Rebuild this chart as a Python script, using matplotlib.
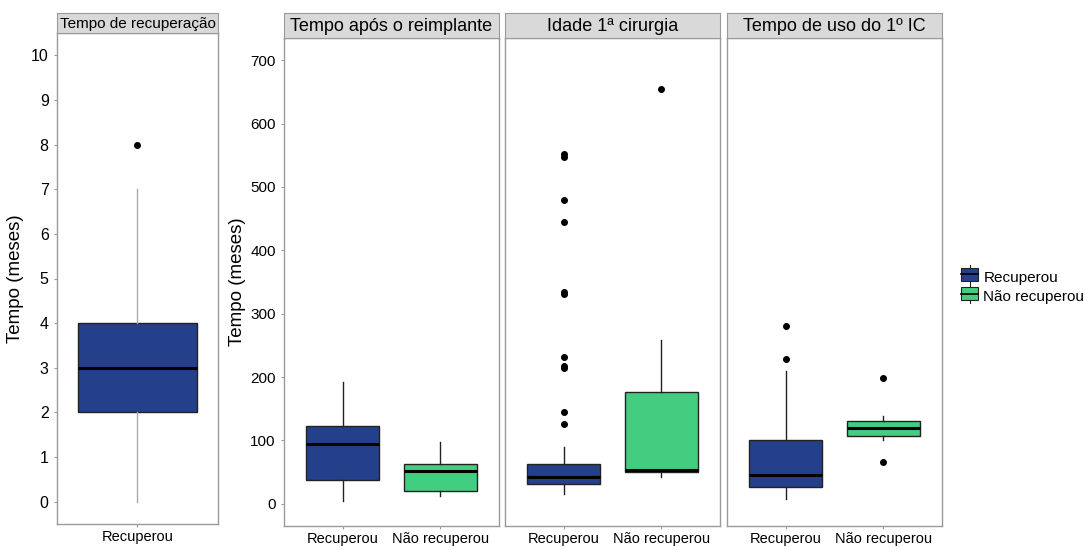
import matplotlib

matplotlib.use("Agg")
import matplotlib.pyplot as plt
from matplotlib.legend_handler import HandlerBase
from matplotlib.lines import Line2D
from matplotlib.patches import Rectangle

plt.rcParams["font.family"] = ["Liberation Sans", "DejaVu Sans"]

W, H = 1085, 547

groups = ["Recuperou", "Não recuperou"]
colors = {"Recuperou": "#25408A", "Não recuperou": "#43CD80"}

# left plot: tempo de recuperacao (meses), only "Recuperou"
rec_title = "Tempo de recuperação"
rec_stats = {"whislo": 0, "q1": 2, "med": 3, "q3": 4, "whishi": 7, "fliers": [8]}

# right facets: whislo, q1, med, q3, whishi, fliers per group
facet_titles = ["Tempo após o reimplante", "Idade 1ª cirurgia", "Tempo de uso do 1º IC"]
reimplante_rec = [4, 38, 94, 123, 192, []]
reimplante_nao = [13, 20, 51, 63, 98, []]
idade_rec = [16, 31, 42, 63, 89, [126, 145, 215, 218, 232, 331, 334, 445, 480, 547, 552]]
idade_nao = [43, 50, 53, 177, 258, [655]]
uso_rec = [8, 26, 45, 101, 209, [228, 280]]
uso_nao = [100, 107, 119, 130, 139, [66, 199]]
facet_data = [
    [reimplante_rec, reimplante_nao],
    [idade_rec, idade_nao],
    [uso_rec, uso_nao],
]
right_ticks = [0, 100, 200, 300, 400, 500, 600, 700]
left_ticks = list(range(0, 11))


def px(x0, y0, x1, y1):
    return [x0 / W, 1 - y1 / H, (x1 - x0) / W, (y1 - y0) / H]


def to_stats(vals):
    lo, q1, med, q3, hi, fl = vals
    return {"whislo": lo, "q1": q1, "med": med, "q3": q3, "whishi": hi, "fliers": fl}


def style_axes(ax):
    for sp in ax.spines.values():
        sp.set_color("#9a9a9a")
        sp.set_linewidth(1.0)
    ax.tick_params(axis="both", colors="#9a9a9a", labelcolor="black", length=2.5, width=0.8)
    ax.tick_params(axis="x", pad=1.5)


def draw_strip(fig, rect, text, size):
    sax = fig.add_axes(px(*rect))
    sax.set_xticks([])
    sax.set_yticks([])
    sax.set_facecolor("#D9D9D9")
    for sp in sax.spines.values():
        sp.set_color("#9a9a9a")
    sax.text(0.5, 0.45, text, ha="center", va="center", fontsize=size, transform=sax.transAxes)


def draw_box(ax, stats, pos, color, width, whisker_color):
    ax.bxp(
        [stats],
        positions=[pos],
        widths=width,
        patch_artist=True,
        boxprops=dict(facecolor=color, edgecolor="#222222", linewidth=1.0),
        medianprops=dict(color="black", linewidth=2.2),
        whiskerprops=dict(color=whisker_color, linewidth=1.0),
        capprops=dict(linewidth=0),
        flierprops=dict(marker="o", markerfacecolor="black", markeredgecolor="black", markersize=4),
    )


class BoxKeyHandler(HandlerBase):
    def create_artists(self, legend, orig, xd, yd, width, height, fontsize, trans):
        cx = xd + width / 2
        rect = Rectangle((xd, yd), width, height, facecolor=orig.get_facecolor(),
                         edgecolor="#222222", linewidth=0.8, transform=trans)
        med = Line2D([xd, xd + width], [yd + height / 2] * 2, color="black", linewidth=1.2, transform=trans)
        wh = Line2D([cx, cx], [yd - 2, yd + height + 2], color="#222222", linewidth=0.8, transform=trans)
        return [wh, rect, med]


fig = plt.figure(figsize=(W / 100, H / 100), dpi=100)

# left plot
ax0 = fig.add_axes(px(57, 33, 218, 524))
draw_box(ax0, rec_stats, 1, colors["Recuperou"], 0.89, "#aaaaaa")
ax0.set_xlim(0.4, 1.6)
ax0.set_ylim(-0.5, 10.5)
ax0.set_yticks(left_ticks)
ax0.set_xticks([1])
ax0.set_xticklabels(["Recuperou"], fontsize=10.5)
ax0.tick_params(axis="y", labelsize=11.5)
ax0.set_ylabel("Tempo (meses)", fontsize=13.5, labelpad=5)
style_axes(ax0)
draw_strip(fig, (57, 13, 218, 33), rec_title, 11)

# right facets
lefts = [284, 505, 727]
pw = 215
for i, (title, pair) in enumerate(zip(facet_titles, facet_data)):
    ax = fig.add_axes(px(lefts[i], 38, lefts[i] + pw, 526))
    for j, (g, vals) in enumerate(zip(groups, pair)):
        draw_box(ax, to_stats(vals), j + 1, colors[g], 0.75, "#222222")
    ax.set_xlim(0.4, 2.6)
    ax.set_ylim(-35, 735)
    ax.set_xticks([1, 2])
    ax.set_xticklabels(groups, fontsize=10.5)
    ax.set_yticks(right_ticks)
    style_axes(ax)
    if i == 0:
        ax.tick_params(axis="y", labelsize=11)
        ax.set_ylabel("Tempo (meses)", fontsize=13.5, labelpad=3)
    else:
        ax.tick_params(axis="y", left=False, labelleft=False)
    draw_strip(fig, (lefts[i], 13, lefts[i] + pw, 38), title, 13)

handles = [Rectangle((0, 0), 1, 1, facecolor=colors[g]) for g in groups]
fig.legend(
    handles,
    groups,
    handler_map={Rectangle: BoxKeyHandler()},
    loc="upper left",
    bbox_to_anchor=(955 / W, 1 - 264 / H),
    frameon=False,
    fontsize=11,
    handlelength=1.1,
    handleheight=0.9,
    handletextpad=0.35,
    labelspacing=0.3,
    borderaxespad=0,
)

fig.savefig("out.png", dpi=100)
